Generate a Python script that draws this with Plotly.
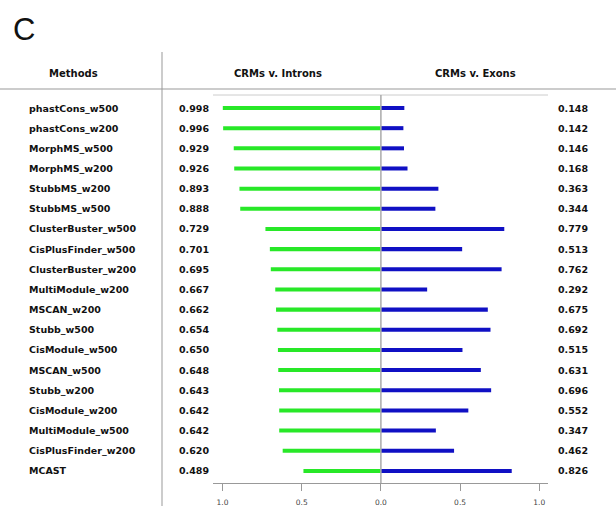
import plotly.graph_objects as go

# Discrimination scores per motif/conservation method
methods = [
    "phastCons_w500", "phastCons_w200", "MorphMS_w500", "MorphMS_w200",
    "StubbMS_w200", "StubbMS_w500", "ClusterBuster_w500", "CisPlusFinder_w500",
    "ClusterBuster_w200", "MultiModule_w200", "MSCAN_w200", "Stubb_w500",
    "CisModule_w500", "MSCAN_w500", "Stubb_w200", "CisModule_w200",
    "MultiModule_w500", "CisPlusFinder_w200", "MCAST",
]
introns = [0.998, 0.996, 0.929, 0.926, 0.893, 0.888, 0.729, 0.701, 0.695, 0.667,
           0.662, 0.654, 0.650, 0.648, 0.643, 0.642, 0.642, 0.620, 0.489]
exons = [0.148, 0.142, 0.146, 0.168, 0.363, 0.344, 0.779, 0.513, 0.762, 0.292,
         0.675, 0.692, 0.515, 0.631, 0.696, 0.552, 0.347, 0.462, 0.826]
tick_vals = [-1.0, -0.5, 0.0, 0.5, 1.0]
tick_text = ["1.0", "0.5", "0.0", "0.5", "1.0"]

W, H = 616, 506
PL, PR, PT, PB = 213, 548, 95, 483  # plot area in pixels

GREEN = "#28e828"
BLUE = "#1010c4"
FONT = "DejaVu Sans"

rows = list(range(len(methods)))

fig = go.Figure()
fig.add_trace(go.Bar(
    y=rows, x=[-v for v in introns], orientation="h", width=0.2,
    marker=dict(color=GREEN, line=dict(width=0)), hoverinfo="skip",
))
fig.add_trace(go.Bar(
    y=rows, x=exons, orientation="h", width=0.2,
    marker=dict(color=BLUE, line=dict(width=0)), hoverinfo="skip",
))


def px_x(p):
    return (p - PL) / (PR - PL)


def px_y(p):
    return (PB - p) / (PB - PT)


anns = []
bold = dict(family=FONT, size=9.5, color="#111", weight="bold")
for i, name in enumerate(methods):
    anns.append(dict(x=px_x(27), xref="paper", y=i, yref="y", text=name,
                     showarrow=False, xanchor="left", yanchor="middle", font=bold))
    anns.append(dict(x=px_x(177), xref="paper", y=i, yref="y", text=f"{introns[i]:.3f}",
                     showarrow=False, xanchor="left", yanchor="middle", font=bold))
    anns.append(dict(x=px_x(556), xref="paper", y=i, yref="y", text=f"{exons[i]:.3f}",
                     showarrow=False, xanchor="left", yanchor="middle", font=bold))

head = dict(family=FONT, size=10, color="#111", weight="bold")
for label, cx in [("Methods", 73), ("CRMs v. Introns", 278), ("CRMs v. Exons", 475)]:
    anns.append(dict(x=px_x(cx), xref="paper", y=px_y(73), yref="paper", text=label,
                     showarrow=False, xanchor="center", yanchor="middle", font=head))

anns.append(dict(x=px_x(11), xref="paper", y=px_y(30), yref="paper", text="C",
                 showarrow=False, xanchor="left", yanchor="middle",
                 font=dict(family="Liberation Sans", size=31, color="#111")))

shapes = [
    # column separator and header rule
    dict(type="line", xref="paper", yref="paper", x0=px_x(162), x1=px_x(162),
         y0=px_y(52), y1=px_y(506), line=dict(color="#999", width=1)),
    dict(type="line", xref="paper", yref="paper", x0=px_x(0), x1=px_x(616),
         y0=px_y(89), y1=px_y(89), line=dict(color="#999", width=1)),
    # top frame of the plot area
    dict(type="line", xref="paper", yref="paper", x0=0, x1=1, y0=1, y1=1,
         line=dict(color="#ccc", width=1)),
    # zero line
    dict(type="line", xref="x", yref="paper", x0=0, x1=0, y0=0, y1=1,
         line=dict(color="#aaa", width=1.5), layer="above"),
]

fig.update_layout(
    width=W, height=H,
    margin=dict(l=PL, r=W - PR, t=PT, b=H - PB),
    paper_bgcolor="white", plot_bgcolor="white",
    barmode="overlay", showlegend=False,
    xaxis=dict(range=[-1.06, 1.055], tickvals=tick_vals, ticktext=tick_text,
               showgrid=False, zeroline=False, showline=True, linecolor="#999",
               linewidth=1, ticks="outside", ticklen=7, tickcolor="#999",
               ticklabelstandoff=5,
               tickfont=dict(family=FONT, size=7.5, color="#444"),
               automargin=False, fixedrange=True),
    yaxis=dict(range=[18.6, -0.645], showticklabels=False, showgrid=False,
               zeroline=False, showline=False, automargin=False, fixedrange=True),
    annotations=anns, shapes=shapes,
)

fig.write_html("out.html")
